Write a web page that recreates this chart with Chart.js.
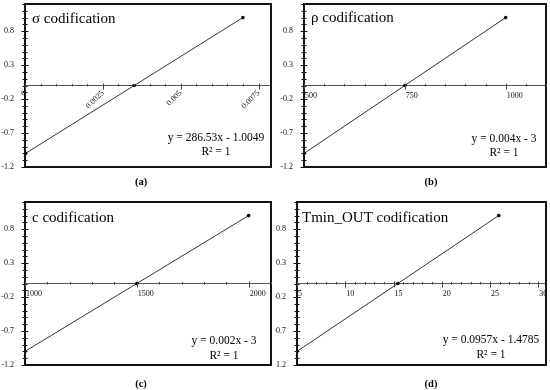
<!DOCTYPE html>
<html>
<head>
<meta charset="utf-8">
<script src="https://cdn.jsdelivr.net/npm/chart.js@4.4.1/dist/chart.umd.min.js"></script>
<style>
body { margin: 0; background: #fff; }
#wrap { position: relative; width: 550px; height: 390px; }
canvas { position: absolute; }
</style>
</head>
<body>
<div id="wrap">
	<canvas id="pa" width="275" height="195" style="left:0;top:0"></canvas>
	<canvas id="pb" width="275" height="195" style="left:275px;top:0"></canvas>
	<canvas id="pc" width="275" height="195" style="left:0;top:195px"></canvas>
	<canvas id="pd" width="275" height="195" style="left:275px;top:195px"></canvas>
</div>
<script>
// codified value for each of the three points
const codY = [-1, 0, 1];

// raw values that map to -1 / 0 / 1
const sigmaX = [0.0000171, 0.003507, 0.006997];
const rhoX = [500, 750, 1000];
const cX = [1000, 1500, 2000];
const tminX = [5.0, 15.45, 25.9];

// labelled ticks
const yMajor = [-1.2, -0.7, -0.2, 0.3, 0.8];
const sigmaTicks = [0, 0.0025, 0.005, 0.0075];
const rhoTicks = [500, 750, 1000];
const cTicks = [1000, 1500, 2000];
const tminTicks = [5, 10, 15, 20, 25, 30];

const titles = ['σ codification', 'ρ codification', 'c codification', 'Tmin_OUT codification'];
const equations = ['y = 286.53x - 1.0049', 'y = 0.004x - 3', 'y = 0.002x - 3', 'y = 0.0957x - 1.4785'];
const panelLabels = ['(a)', '(b)', '(c)', '(d)'];

const SERIF = '"Liberation Serif", "DejaVu Serif", serif';
const INK = 'rgb(20, 20, 20)';

const panels = [
	{id: 'pa', xs: sigmaX, majors: sigmaTicks, min: 0, max: 0.0079, step: 0.0005, rot: 45,
		box: {l: 25, t: 4, r: 271, b: 167}, titlePos: [7, 19], eqPos: [-55, -26, -12], labPos: [141, 182.5]},
	{id: 'pb', xs: rhoX, majors: rhoTicks, min: 500, max: 1100, step: 50, rot: 0,
		box: {l: 29, t: 4, r: 273, b: 167}, titlePos: [7, 18], eqPos: [-42, -25, -11], labPos: [156, 182.5]},
	{id: 'pc', xs: cX, majors: cTicks, min: 1000, max: 2100, step: 100, rot: 0,
		box: {l: 25, t: 7, r: 273, b: 170}, titlePos: [7, 20], eqPos: [-47, -21, -6], labPos: [141, 189.5]},
	{id: 'pd', xs: tminX, majors: tminTicks, min: 5, max: 30.8, step: 1, rot: 0,
		box: {l: 22, t: 7, r: 271, b: 170}, titlePos: [5, 20], eqPos: [-55, -22, -7], labPos: [156, 189.5]}
];

const stepTicks = (min, max, step) => {
	let out = [];
	for(let k = 0; min + k * step <= max + step / 1000; k++)
		out.push(Math.round((min + k * step) * 1e7) / 1e7);
	return out;
}

const isMajor = (v, majors, step) => majors.some(m => Math.abs(m - v) < step / 100);

const buildPanel = (p, i) => {
	const yAll = stepTicks(-1.2, 1.2, 0.1);
	const xAll = stepTicks(p.min, p.max, p.step);

	//frame, cross tick marks and in-plot texts
	const decor = {
		id: 'decor' + i,
		afterDraw(chart) {
			const ctx = chart.ctx;
			const a = chart.chartArea;
			const x = chart.scales.x, y = chart.scales.y;
			ctx.save();

			ctx.strokeStyle = INK;
			ctx.lineWidth = 2;
			ctx.strokeRect(a.left, a.top, a.right - a.left, a.bottom - a.top);

			ctx.lineWidth = 1;
			yAll.forEach(v => {
				let py = Math.round(y.getPixelForValue(v)) + 0.5;
				let len = isMajor(v, yMajor, 0.1) ? 3.5 : 2.5;
				ctx.beginPath(); ctx.moveTo(a.left - len, py); ctx.lineTo(a.left + len, py); ctx.stroke();
			});
			let y0 = Math.round(y.getPixelForValue(0)) + 0.5;
			ctx.strokeStyle = '#444';
			xAll.forEach(v => {
				let px = Math.round(x.getPixelForValue(v)) + 0.5;
				let major = isMajor(v, p.majors, p.step);
				ctx.beginPath(); ctx.moveTo(px, y0 - (major ? 3 : 2.5)); ctx.lineTo(px, y0 + (major ? 3 : 0)); ctx.stroke();
			});

			ctx.fillStyle = '#000';
			ctx.textBaseline = 'alphabetic';
			ctx.textAlign = 'left';
			ctx.font = '15px ' + SERIF;
			ctx.fillText(titles[i], a.left + p.titlePos[0], a.top + p.titlePos[1]);

			ctx.textAlign = 'center';
			ctx.font = '11.5px ' + SERIF;
			ctx.fillText(equations[i], a.right + p.eqPos[0], a.bottom + p.eqPos[1]);
			ctx.fillText('R² = 1', a.right + p.eqPos[0], a.bottom + p.eqPos[2]);

			ctx.textBaseline = 'middle';
			ctx.font = 'bold 10.5px ' + SERIF;
			ctx.fillText(panelLabels[i], p.labPos[0], p.labPos[1]);
			ctx.restore();
		}
	};

	return new Chart(document.getElementById(p.id), {
		type: 'scatter',
		data: {
			datasets: [{
				data: p.xs.map((v, j) => ({x: v, y: codY[j]})),
				showLine: true,
				borderColor: '#333',
				borderWidth: 1,
				pointRadius: 1.8,
				pointBackgroundColor: '#000',
				pointBorderWidth: 0
			}]
		},
		options: {
			responsive: false,
			animation: false,
			layout: {padding: {left: 0, top: p.box.t, right: 275 - p.box.r, bottom: 195 - p.box.b}},
			plugins: {legend: {display: false}, tooltip: {enabled: false}},
			scales: {
				x: {
					type: 'linear',
					position: {y: 0},
					min: p.min,
					max: p.max,
					grid: {display: false, drawTicks: false},
					border: {display: true, color: '#555', width: 1},
					afterBuildTicks: s => { s.ticks = xAll.map(v => ({value: v})); },
					afterFit: s => { s.paddingLeft = 0; s.paddingRight = 0; },
					ticks: {
						autoSkip: false,
						minRotation: p.rot,
						maxRotation: p.rot,
						align: p.rot ? 'center' : 'start',
						padding: p.rot ? 3 : 6,
						labelOffset: p.rot ? 0 : 1,
						color: '#111',
						font: {family: SERIF, size: 8},
						callback: v => isMajor(v, p.majors, p.step) ? String(p.majors.find(m => Math.abs(m - v) < p.step / 100)) : ''
					}
				},
				y: {
					type: 'linear',
					min: -1.2,
					max: 1.2,
					grid: {display: false, drawTicks: false},
					border: {display: true, color: '#000', width: 2},
					afterBuildTicks: s => { s.ticks = yAll.map(v => ({value: v})); },
					afterFit: s => { s.width = p.box.l; s.paddingTop = 0; s.paddingBottom = 0; },
					ticks: {
						autoSkip: false,
						padding: 11,
						color: '#111',
						font: {family: SERIF, size: 8},
						callback: v => isMajor(v, yMajor, 0.1) ? String(yMajor.find(m => Math.abs(m - v) < 0.001)) : ''
					}
				}
			}
		},
		plugins: [decor]
	});
}

panels.map((p, i) => buildPanel(p, i));
</script>
</body>
</html>
